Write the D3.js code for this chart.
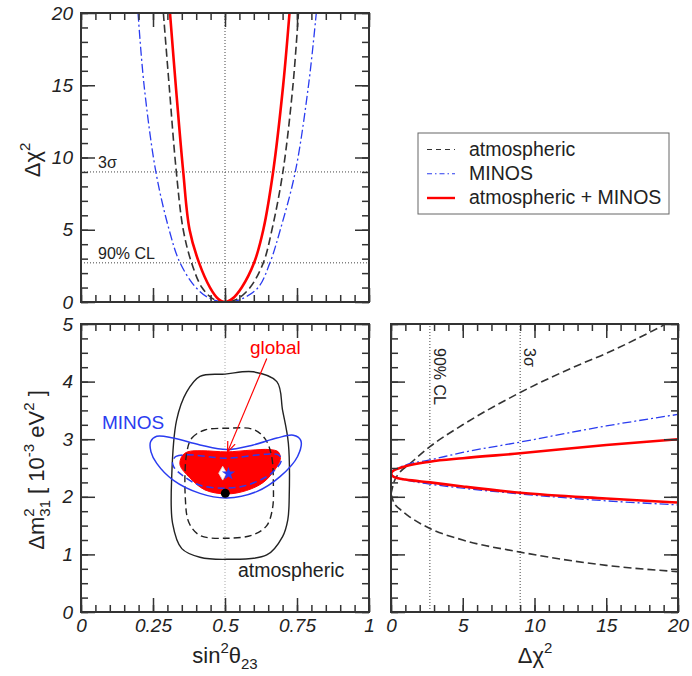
<!DOCTYPE html>
<html><head><meta charset="utf-8">
<script src="https://cdn.jsdelivr.net/npm/d3@7"></script>
<style>body{margin:0;background:#fff}svg{display:block}</style>
</head><body>
<script>
// ---------- DATA ----------
// top panel: [sin^2 theta23, delta chi^2]
const chiAtm   = [[0.286,20],[0.306,15],[0.331,9],[0.355,5],[0.384,2.71],[0.42,1.0],[0.46,0.2],[0.5,0],[0.54,0.18],[0.587,1.0],[0.633,2.71],[0.663,5],[0.701,9],[0.736,15],[0.755,20]];
const chiMinos = [[0.198,20],[0.219,15],[0.26,9],[0.306,5],[0.344,2.71],[0.399,1.0],[0.45,0.22],[0.5,0],[0.55,0.15],[0.615,1.0],[0.656,2.71],[0.692,5],[0.744,9],[0.79,15],[0.817,20]];
const chiComb  = [[0.309,20],[0.329,15],[0.355,9],[0.377,5],[0.41,2.71],[0.448,1.0],[0.475,0.25],[0.5,0],[0.527,0.25],[0.558,1.0],[0.601,2.71],[0.633,5],[0.667,9],[0.702,15],[0.724,20]];
// right panel: [delta chi^2, delta m^2]
const dmAtmUp    = [[0,2.05],[0.2,2.25],[0.6,2.42],[1.2,2.55],[2.71,2.87],[5,3.25],[9,3.81],[13,4.28],[15,4.49],[19,4.98]];
const dmAtmLow   = [[0,2.05],[0.2,1.9],[0.6,1.79],[1.2,1.67],[2.71,1.45],[5,1.25],[9,1.04],[15,0.81],[20,0.70]];
const dmMinosUp  = [[0,2.41],[0.1,2.45],[0.5,2.50],[1,2.55],[2.71,2.64],[5,2.77],[9,2.95],[15,3.23],[20,3.43]];
const dmMinosLow = [[0,2.41],[0.1,2.37],[0.5,2.32],[1,2.29],[2.71,2.22],[5,2.15],[9,2.05],[15,1.93],[20,1.86]];
const dmCombUp   = [[0,2.40],[0.1,2.44],[0.5,2.49],[1,2.53],[2.71,2.61],[5,2.67],[9,2.755],[15,2.90],[20,3.0]];
const dmCombLow  = [[0,2.40],[0.1,2.36],[0.5,2.32],[1,2.30],[2.71,2.25],[5,2.18],[9,2.07],[15,1.97],[20,1.90]];
// bottom-left contours: [sin^2 theta23, delta m^2]
const atmSolid  = [[0.367,3.82],[0.413,4.09],[0.50,4.13],[0.598,4.17],[0.68,4.0],[0.70,3.5],[0.72,2.93],[0.723,2.0],[0.718,1.6],[0.70,1.31],[0.645,0.99],[0.506,0.915],[0.413,0.95],[0.35,1.1],[0.318,1.54],[0.315,2.35],[0.332,3.33]];
const atmDashed = [[0.367,2.76],[0.385,3.02],[0.43,3.16],[0.506,3.19],[0.598,3.17],[0.64,3.0],[0.662,2.7],[0.668,2.2],[0.665,1.8],[0.645,1.5],[0.598,1.34],[0.506,1.28],[0.413,1.33],[0.375,1.55],[0.362,2.0]];
const minosSolid  = [[0.242,2.96],[0.263,3.05],[0.32,3.02],[0.413,2.90],[0.506,2.82],[0.598,2.90],[0.68,3.02],[0.737,3.07],[0.763,2.98],[0.752,2.70],[0.691,2.35],[0.61,2.09],[0.506,1.98],[0.413,2.06],[0.32,2.29],[0.263,2.58],[0.243,2.78]];
const minosDashed = [[0.318,2.62],[0.33,2.70],[0.367,2.73],[0.506,2.67],[0.645,2.74],[0.688,2.72],[0.695,2.62],[0.67,2.45],[0.645,2.35],[0.575,2.20],[0.506,2.15],[0.413,2.20],[0.35,2.38],[0.322,2.52]];
const globalFill  = [[0.344,2.55],[0.35,2.70],[0.37,2.78],[0.42,2.80],[0.506,2.78],[0.59,2.81],[0.655,2.82],[0.685,2.78],[0.692,2.65],[0.67,2.45],[0.633,2.25],[0.575,2.11],[0.506,2.05],[0.43,2.12],[0.378,2.33]];
const bestAtm = [0.501, 2.06];
const bestMinos = [0.512, 2.40];
const bestGlobal = [0.492, 2.41];
const arrowFrom = [0.645, 4.40], arrowTo = [0.509, 2.78];
// reference levels
const cl90 = 2.71, sig3 = 9, maxMix = 0.5;
// ticks
const thetaMajor = [0, 0.25, 0.5, 0.75, 1];
const thetaLabels = ["0", "0.25", "0.5", "0.75", "1"];
const thetaMinor = d3.range(0, 1.0001, 0.05);
const chiMajor = [0, 5, 10, 15, 20];
const chiLabels = ["0", "5", "10", "15", "20"];
const chiMinor = d3.range(0, 20.001, 1);
const dmMajor = [0, 1, 2, 3, 4, 5];
const dmLabels = ["0", "1", "2", "3", "4", "5"];
const dmMinor = d3.range(0, 5.001, 0.25);
const legendItems = ["atmospheric", "MINOS", "atmospheric + MINOS"];

// ---------- DRAW ----------
const FONT = "'Liberation Sans', Arial, Helvetica, sans-serif";
const svg = d3.select("body").append("svg").attr("width", 692).attr("height", 676);
const defs = svg.append("defs");

const xTh = d3.scaleLinear([0, 1], [81, 369]);
const yTop = d3.scaleLinear([0, 20], [302, 13]);
const yDm = d3.scaleLinear([0, 5], [612, 324]);
const xChi = d3.scaleLinear([0, 20], [391, 678]);

const styles = {
  atm:   {stroke: "#333", width: 1.6, dash: "8,4"},
  minos: {stroke: "#2a3cf0", width: 1.3, dash: "9,3,2,3"},
  comb:  {stroke: "#ff0000", width: 2.6, dash: null}
};

function clip(id, xs, ys) {
  defs.append("clipPath").attr("id", id).append("rect")
    .attr("x", xs.range()[0]).attr("y", ys.range()[1])
    .attr("width", xs.range()[1] - xs.range()[0]).attr("height", ys.range()[0] - ys.range()[1]);
}
clip("cTop", xTh, yTop); clip("cBL", xTh, yDm); clip("cBR", xChi, yDm);

function axis(gen, tr, vals, size, fmt, pad) {
  const a = svg.append("g").attr("transform", tr)
    .call(gen.tickValues(vals).tickSizeInner(-size).tickSizeOuter(0).tickPadding(pad || 0)
      .tickFormat(fmt ? (d, i) => fmt[i] : () => ""));
  a.select(".domain").remove();
  a.selectAll("line").attr("stroke", "#333").attr("stroke-width", 1.5);
  a.attr("font-family", FONT).attr("font-size", 19).attr("font-style", "italic");
  a.selectAll("text").attr("fill", "#222");
  return a;
}
function frame(xs, ys, xMaj, xMin, yMaj, yMin, xLab, yLab) {
  const [x0, x1] = xs.range(), [y0, y1] = ys.range();
  axis(d3.axisBottom(xs), `translate(0,${y0})`, xMin, 7);
  axis(d3.axisBottom(xs), `translate(0,${y0})`, xMaj, 14, xLab, 7);
  axis(d3.axisTop(xs), `translate(0,${y1})`, xMin, 7);
  axis(d3.axisTop(xs), `translate(0,${y1})`, xMaj, 14);
  axis(d3.axisLeft(ys), `translate(${x0},0)`, yMin, 7);
  axis(d3.axisLeft(ys), `translate(${x0},0)`, yMaj, 14, yLab, 8);
  axis(d3.axisRight(ys), `translate(${x1},0)`, yMin, 7);
  axis(d3.axisRight(ys), `translate(${x1},0)`, yMaj, 14);
  svg.append("rect").attr("x", x0).attr("y", y1).attr("width", x1 - x0).attr("height", y0 - y1)
    .attr("fill", "none").attr("stroke", "#333").attr("stroke-width", 2);
}
function styled(p, s) {
  p.attr("fill", "none").attr("stroke", s.stroke).attr("stroke-width", s.width);
  if (s.dash) p.attr("stroke-dasharray", s.dash);
  return p;
}
function dotted(g, x1, y1, x2, y2, col) {
  g.append("line").attr("x1", x1).attr("y1", y1).attr("x2", x2).attr("y2", y2)
    .attr("stroke", col).attr("stroke-width", 1).attr("stroke-dasharray", "1,2");
}

// ----- top-left panel -----
const gT = svg.append("g").attr("clip-path", "url(#cTop)");
dotted(gT, xTh(maxMix), yTop(0), xTh(maxMix), yTop(20), "#444");
dotted(gT, xTh(0), yTop(sig3), xTh(1), yTop(sig3), "#444");
dotted(gT, xTh(0), yTop(cl90), xTh(1), yTop(cl90), "#444");
const lineTop = d3.line().x(d => xTh(d[0])).y(d => yTop(d[1])).curve(d3.curveCatmullRom.alpha(0.5));
styled(gT.append("path").attr("d", lineTop(chiMinos)), styles.minos);
styled(gT.append("path").attr("d", lineTop(chiAtm)), styles.atm);
styled(gT.append("path").attr("d", lineTop(chiComb)), styles.comb);
svg.append("text").attr("x", 98).attr("y", yTop(sig3) - 4).attr("font-family", FONT).attr("font-size", 16).attr("fill", "#222").text("3σ");
svg.append("text").attr("x", 98).attr("y", yTop(cl90) - 3.5).attr("font-family", FONT).attr("font-size", 16).attr("fill", "#222").text("90% CL");
frame(xTh, yTop, thetaMajor, thetaMinor, chiMajor, chiMinor, null, chiLabels);
{
  const t = svg.append("text").attr("transform", "translate(40,160) rotate(-90)")
    .attr("text-anchor", "middle").attr("font-family", FONT).attr("font-size", 22).attr("fill", "#222");
  t.append("tspan").text("Δχ");
  t.append("tspan").attr("font-size", 15).attr("dy", -10).text("2");
}

// ----- bottom-left panel -----
const gL = svg.append("g").attr("clip-path", "url(#cBL)");
dotted(gL, xTh(maxMix), yDm(0), xTh(maxMix), yDm(5), "#aaa");
const closed = d3.line().x(d => xTh(d[0])).y(d => yDm(d[1])).curve(d3.curveCatmullRomClosed.alpha(0.5));
gL.append("path").attr("d", closed(globalFill)).attr("fill", "#ff0000").attr("stroke", "#ff0000").attr("stroke-width", 1);
styled(gL.append("path").attr("d", closed(atmSolid)), {stroke: "#222", width: 1.4});
styled(gL.append("path").attr("d", closed(atmDashed)), {stroke: "#222", width: 1.4, dash: "7,4"});
styled(gL.append("path").attr("d", closed(minosSolid)), {stroke: "#2a3cf0", width: 1.5});
styled(gL.append("path").attr("d", closed(minosDashed)), {stroke: "#2a3cf0", width: 1.5, dash: "7,4"});
gL.append("path").attr("d", d3.symbol(d3.symbolDiamond, 55)())
  .attr("transform", `translate(${xTh(bestGlobal[0])},${yDm(bestGlobal[1])})`)
  .attr("fill", "#fff").attr("stroke", "#ddd").attr("stroke-width", 0.8);
gL.append("path").attr("d", d3.symbol(d3.symbolStar, 55)())
  .attr("transform", `translate(${xTh(bestMinos[0])},${yDm(bestMinos[1])})`)
  .attr("fill", "#2a3cf0");
gL.append("circle").attr("cx", xTh(bestAtm[0])).attr("cy", yDm(bestAtm[1])).attr("r", 4.5).attr("fill", "#000");
// arrow
defs.append("marker").attr("id", "arr").attr("viewBox", "0 0 10 10").attr("refX", 10).attr("refY", 5)
  .attr("markerWidth", 10).attr("markerHeight", 10).attr("markerUnits", "userSpaceOnUse").attr("orient", "auto")
  .append("path").attr("d", "M0,1 L10,5 L0,9").attr("fill", "none").attr("stroke", "#ff0000").attr("stroke-width", 1.2);
svg.append("line").attr("x1", xTh(arrowFrom[0])).attr("y1", yDm(arrowFrom[1]))
  .attr("x2", xTh(arrowTo[0])).attr("y2", yDm(arrowTo[1]))
  .attr("stroke", "#ff0000").attr("stroke-width", 1.2).attr("marker-end", "url(#arr)");
svg.append("text").attr("x", 250).attr("y", 354).attr("font-family", FONT).attr("font-size", 19).attr("fill", "#ff0000").text("global");
svg.append("text").attr("x", 102).attr("y", 429).attr("font-family", FONT).attr("font-size", 19).attr("fill", "#2a3cf0").text("MINOS");
svg.append("text").attr("x", 238).attr("y", 577).attr("font-family", FONT).attr("font-size", 19.5).attr("fill", "#222").text("atmospheric");
frame(xTh, yDm, thetaMajor, thetaMinor, dmMajor, dmMinor, thetaLabels, dmLabels);
{
  const t = svg.append("text").attr("transform", "translate(44,470) rotate(-90)")
    .attr("text-anchor", "middle").attr("font-family", FONT).attr("font-size", 22).attr("fill", "#222");
  t.append("tspan").text("Δm");
  t.append("tspan").attr("font-size", 15).attr("dy", -10).text("2");
  t.append("tspan").attr("font-size", 15).attr("dx", -8.3).attr("dy", 16).text("31");
  t.append("tspan").attr("dy", -6).text(" [ 10");
  t.append("tspan").attr("font-size", 15).attr("dy", -10).text("-3");
  t.append("tspan").attr("dy", 10).text(" eV");
  t.append("tspan").attr("font-size", 15).attr("dy", -10).text("2");
  t.append("tspan").attr("dy", 10).text(" ]");
}
{
  const t = svg.append("text").attr("x", 225).attr("y", 663)
    .attr("text-anchor", "middle").attr("font-family", FONT).attr("font-size", 22).attr("fill", "#222");
  t.append("tspan").text("sin");
  t.append("tspan").attr("font-size", 15).attr("dy", -10).text("2");
  t.append("tspan").attr("dy", 10).text("θ");
  t.append("tspan").attr("font-size", 15).attr("dy", 6).text("23");
}

// ----- bottom-right panel -----
const gR = svg.append("g").attr("clip-path", "url(#cBR)");
dotted(gR, xChi(cl90), yDm(0), xChi(cl90), yDm(5), "#444");
dotted(gR, xChi(sig3), yDm(0), xChi(sig3), yDm(5), "#444");
const lineR = d3.line().x(d => xChi(d[0])).y(d => yDm(d[1])).curve(d3.curveMonotoneX);
[dmAtmUp, dmAtmLow].forEach(a => styled(gR.append("path").attr("d", lineR(a)), styles.atm));
[dmMinosUp, dmMinosLow].forEach(a => styled(gR.append("path").attr("d", lineR(a)), styles.minos));
[dmCombUp, dmCombLow].forEach(a => styled(gR.append("path").attr("d", lineR(a)), styles.comb));
svg.append("text").attr("transform", `translate(${xChi(cl90) + 4.5},348) rotate(90)`)
  .attr("font-family", FONT).attr("font-size", 16).attr("fill", "#222").text("90% CL");
svg.append("text").attr("transform", `translate(${xChi(sig3) + 4},348) rotate(90)`)
  .attr("font-family", FONT).attr("font-size", 16).attr("fill", "#222").text("3σ");
frame(xChi, yDm, chiMajor, chiMinor, dmMajor, dmMinor, chiLabels, null);
{
  const t = svg.append("text").attr("x", 535).attr("y", 663)
    .attr("text-anchor", "middle").attr("font-family", FONT).attr("font-size", 22).attr("fill", "#222");
  t.append("tspan").text("Δχ");
  t.append("tspan").attr("font-size", 15).attr("dy", -10).text("2");
}

// ----- legend -----
const lg = svg.append("g");
lg.append("rect").attr("x", 418).attr("y", 133).attr("width", 251).attr("height", 81)
  .attr("fill", "#fff").attr("stroke", "#666").attr("stroke-width", 1);
const legStyles = [styles.atm, styles.minos, styles.comb];
const legY = d3.scalePoint().domain(legendItems).range([149.5, 198]);
legendItems.forEach((name, i) => {
  const s = legStyles[i];
  styled(lg.append("line").attr("x1", 427).attr("x2", 455).attr("y1", legY(name)).attr("y2", legY(name)),
    {stroke: s.stroke, width: i === 2 ? 2.4 : 1.2, dash: i === 0 ? "5,4" : (i === 1 ? "5,3,1.5,3" : null)});
  lg.append("text").attr("x", 469).attr("y", legY(name) + 6).attr("font-family", FONT)
    .attr("font-size", 19.5).attr("fill", "#222").text(name);
});
</script>
</body></html>
